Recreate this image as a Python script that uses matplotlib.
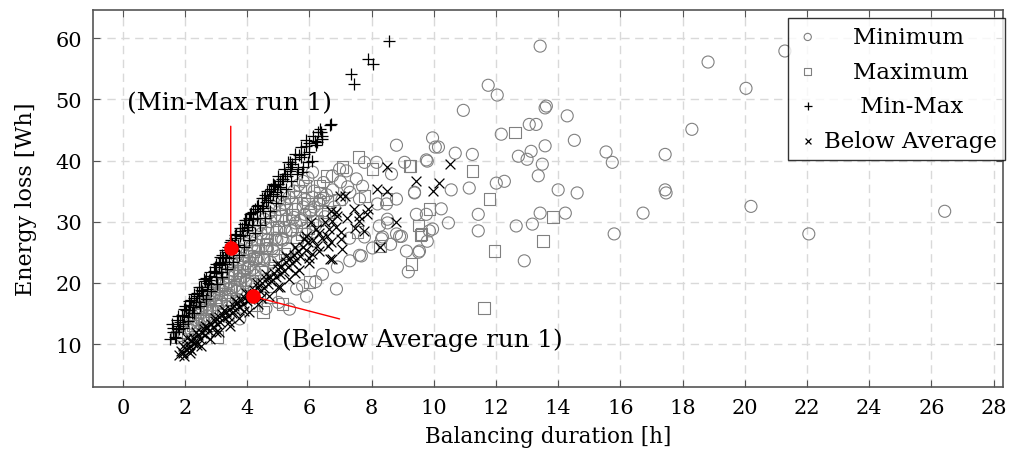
import matplotlib
matplotlib.use("Agg")
import matplotlib.pyplot as plt

plt.rcParams["font.family"] = ["DejaVu Serif"]

# Minimum strategy (grey circles)
min_x = [1.85, 2.05, 2.20, 2.10, 2.35, 2.30, 2.50, 2.45, 2.65, 2.60, 2.80, 2.75, 2.95, 2.90, 3.10,
         3.05, 3.25, 3.20, 3.40, 3.35, 3.55, 3.50, 3.70, 3.65, 3.85, 3.80, 4.00, 3.95, 4.15, 4.10,
         4.30, 4.25, 4.45, 4.40, 4.60, 4.55, 4.75, 4.70, 4.90, 4.85, 5.05, 5.00, 5.20, 5.15, 5.35,
         5.50, 5.65, 5.80, 5.95, 3.00, 3.30, 3.60, 3.90, 4.20, 4.50, 4.80, 5.10, 5.40, 5.70, 6.00,
         6.30, 6.55, 3.75, 4.05, 4.35, 4.65, 4.95, 5.25, 5.55, 5.85, 6.15, 6.45,
         2.45, 2.70, 2.90, 3.15, 3.45, 3.70, 3.95, 4.25, 4.50, 4.75, 5.00, 5.30, 5.60, 5.90, 6.20,
         6.50, 6.80, 7.05, 7.30, 2.55, 2.85, 3.15, 3.45, 3.75, 4.05, 4.35, 4.65, 4.95, 5.25, 5.55,
         5.85, 6.15, 6.45, 6.75,
         2.20, 2.50, 2.80, 3.10, 3.40, 3.70, 4.00, 4.30, 4.60, 4.90, 5.20, 5.50, 5.80, 6.10,
         2.45, 2.75, 3.05, 3.35, 3.65, 3.95, 4.25, 4.55, 4.85, 5.15, 5.45, 5.75, 6.05, 6.35,
         3.76, 5.36, 6.87, 5.91, 6.42, 5.59, 5.78, 4.60, 5.00, 6.20, 6.90, 7.30,
         6.10, 6.74, 6.97, 7.19, 7.00, 7.23, 7.51, 7.71, 7.61, 7.77, 8.16, 8.64, 8.80, 9.06, 9.76,
         10.05, 9.38, 8.80, 8.19, 8.48, 9.44, 9.76, 9.96, 8.51, 8.90, 8.32, 7.61, 7.29, 8.25, 9.86,
         9.79, 8.96, 8.80, 8.35, 8.61, 9.12, 9.54, 9.18, 8.03, 7.67, 7.77, 8.51, 9.51,
         11.75, 12.04, 10.95, 13.58, 13.62, 14.29, 18.30, 12.17, 13.07, 13.29, 14.52, 9.96, 10.15,
         10.69, 11.24, 9.79, 12.72, 13.00, 13.13, 13.58, 13.49, 13.36, 15.54, 15.74, 17.44, 17.44,
         17.47, 12.01, 12.27, 14.00, 14.61, 10.56, 11.14, 9.38, 10.24, 11.43, 13.42, 14.23, 16.73,
         10.47, 12.65, 13.17, 11.43, 15.80, 12.91, 13.42, 18.82, 20.04, 20.20, 22.06, 26.43, 21.29]
min_y = [11.4, 12.6, 13.4, 14.2, 14.0, 15.6, 15.0, 16.6, 16.2, 17.4, 17.0, 18.6, 18.0, 19.4, 19.0,
         20.4, 20.0, 21.4, 21.0, 22.6, 22.0, 23.4, 23.0, 24.4, 24.0, 25.4, 25.0, 26.4, 26.0, 27.4,
         27.0, 28.4, 28.0, 29.4, 29.0, 30.4, 30.0, 31.4, 31.0, 32.4, 32.0, 33.4, 33.0, 34.4, 34.0,
         35.0, 36.0, 36.6, 37.2, 16.4, 17.8, 19.4, 21.0, 22.4, 24.0, 25.6, 27.2, 28.6, 30.2, 31.6,
         33.0, 34.4, 20.6, 23.6, 25.4, 27.0, 28.6, 30.4, 32.0, 33.6, 35.0, 36.4,
         13.4, 14.6, 15.6, 16.8, 18.0, 19.0, 20.0, 21.2, 22.4, 23.4, 24.4, 25.6, 26.8, 28.0, 29.4,
         30.8, 32.4, 33.6, 34.8, 15.8, 17.4, 18.8, 20.2, 21.6, 22.8, 24.2, 25.6, 27.0, 28.4, 29.8,
         31.2, 32.4, 33.8, 35.2,
         12.2, 13.9, 15.6, 17.2, 18.9, 20.6, 22.3, 24.0, 25.6, 27.3, 29.0, 30.7, 32.4, 34.0,
         12.0, 13.9, 15.3, 17.1, 18.6, 20.4, 21.9, 23.8, 25.2, 27.0, 28.5, 30.3, 31.8, 33.5,
         14.1, 15.7, 19.0, 17.8, 21.4, 19.0, 19.5, 15.8, 16.8, 20.2, 22.6, 23.6,
         38.1, 37.5, 38.6, 38.3, 36.5, 35.7, 37.0, 35.8, 33.7, 39.7, 39.7, 37.8, 42.5, 39.7, 40.1,
         42.2, 34.8, 33.7, 32.9, 32.9, 31.2, 31.2, 28.8, 30.4, 27.6, 27.2, 24.5, 27.3, 29.3, 28.5,
         26.8, 27.6, 28.0, 27.5, 26.3, 25.2, 25.2, 21.8, 25.7, 24.4, 27.5, 29.8, 25.0,
         52.3, 50.7, 48.2, 48.6, 48.9, 47.3, 45.1, 44.3, 45.9, 45.9, 43.3, 43.7, 42.2,
         41.2, 41.0, 39.9, 40.7, 40.2, 41.5, 42.4, 39.4, 37.5, 41.4, 39.7, 41.0, 35.2,
         34.7, 36.3, 36.6, 35.2, 34.7, 35.2, 35.5, 34.7, 32.1, 31.2, 31.4, 31.4, 31.4,
         29.8, 29.3, 29.6, 28.5, 28.0, 23.6, 58.7, 56.1, 51.8, 32.5, 28.0, 31.7, 57.9]

# Maximum strategy (grey squares)
max_x = [1.73, 1.95, 2.25, 2.40, 2.55, 2.70, 2.85, 3.02, 3.00, 3.15, 3.30, 3.45, 3.60, 3.75, 3.90,
         4.05, 4.20, 4.35, 4.50, 4.65, 4.80, 4.95, 5.10, 5.25, 5.40, 5.55, 5.70, 5.85, 6.33, 6.55,
         6.58, 7.06, 7.58, 8.03, 9.22, 7.77, 8.48, 9.86, 9.51, 9.60, 7.55, 8.28, 9.28, 6.00, 5.14,
         4.50, 12.62, 11.24, 11.79, 13.84, 13.52, 11.95, 11.62, 9.25, 9.57, 4.85, 5.30, 4.10, 3.55,
         5.75, 6.10, 6.40, 4.30, 4.75,
         2.60, 3.05, 3.35, 3.85, 4.15, 4.45, 4.90, 5.20, 5.60, 5.95, 6.25, 6.60, 6.95, 6.35, 5.95,
         5.45, 5.00, 4.60, 4.25, 3.85, 3.50, 3.20, 2.90]
max_y = [11.1, 12.0, 13.0, 15.2, 14.2, 16.0, 15.4, 11.1, 17.6, 18.2, 19.6, 19.0, 21.2, 22.0, 22.6,
         24.4, 25.2, 26.2, 27.2, 28.2, 29.0, 30.2, 31.0, 32.0, 33.0, 34.0, 35.0, 35.8, 35.8, 37.5,
         33.2, 38.9, 40.6, 38.6, 39.1, 34.2, 33.7, 32.1, 29.4, 28.0, 28.3, 26.0, 23.1, 20.1, 16.5,
         15.2, 44.6, 38.3, 33.7, 30.8, 26.8, 25.2, 15.9, 39.1, 27.8, 22.4, 25.6, 19.8, 17.4,
         28.0, 30.2, 31.8, 16.4, 17.6,
         13.8, 15.4, 16.6, 18.6, 20.4, 21.8, 23.8, 24.8, 27.4, 29.0, 30.2, 31.6, 33.6, 34.8, 33.0,
         31.2, 29.2, 26.2, 24.0, 23.2, 21.6, 19.8, 18.4]

# Min-Max strategy (black plus)
mm_x = [1.52, 1.60, 1.68, 1.75, 1.70, 1.82, 1.90, 1.85, 1.95, 2.02, 2.08, 2.00, 2.15, 2.22, 2.18,
        2.30, 2.25, 2.38, 2.45, 2.40, 2.52, 2.58, 2.50, 2.65, 2.72, 2.68, 2.80, 2.85, 2.78, 2.92,
        3.00, 2.95, 3.08, 3.15, 3.10, 3.22, 3.28, 3.20, 3.35, 3.42, 3.38, 3.50, 3.55, 3.48, 3.62,
        3.70, 3.65, 3.76, 3.82, 3.78, 3.90, 3.98, 3.92, 4.05, 4.14, 4.08, 4.20, 4.24, 4.30, 4.36,
        4.46, 4.40, 4.55, 4.62, 4.58, 4.72, 4.78, 4.70, 4.86, 4.95, 4.90, 5.04, 5.11, 5.06, 5.20,
        5.27, 5.30, 5.36, 5.45, 5.62, 5.68, 5.75, 5.84, 5.88, 5.94, 6.07, 6.10, 6.17, 6.23, 6.33,
        6.36, 6.42, 6.42, 6.65, 6.71, 7.35, 7.45, 7.90, 8.03, 8.57,
        1.62, 1.78, 1.98, 2.12, 2.35, 2.55, 2.75, 2.98, 3.18, 3.32, 3.58, 3.86, 4.02, 4.18, 4.50,
        4.66, 4.82, 5.00, 5.15, 5.40, 5.55, 5.72, 6.00, 6.28,
        1.70, 1.58, 1.92, 1.78, 2.10, 1.96, 2.30, 2.12, 2.48, 2.30, 2.66, 2.46, 2.84, 2.62, 3.02,
        2.80, 3.20, 2.98, 3.36, 3.14, 3.54, 3.30, 3.72, 3.46, 3.90, 3.62, 4.06, 3.78, 4.24, 3.96,
        4.40, 4.12, 4.58, 4.30, 4.74, 4.48, 4.92, 4.64, 5.08, 4.82, 5.26, 5.00, 5.42, 5.18, 5.60,
        5.36, 5.78, 5.54, 5.72, 6.00, 5.90, 6.20]
mm_y = [10.8, 12.6, 11.2, 13.9, 12.0, 12.4, 14.8, 13.6, 13.2, 15.6, 14.4, 16.2, 16.4, 15.1, 17.2,
        17.6, 16.0, 18.4, 16.8, 17.9, 19.4, 18.0, 18.9, 20.3, 19.0, 20.8, 21.2, 19.8, 20.4, 22.0,
        21.0, 22.6, 23.2, 21.8, 22.9, 24.1, 23.0, 24.6, 25.0, 24.0, 25.8, 26.4, 25.2, 27.0, 27.4,
        26.2, 28.0, 27.6, 28.9, 28.4, 29.6, 28.6, 30.2, 30.6, 29.4, 31.2, 31.6, 32.1, 30.6, 32.8,
        32.5, 31.8, 33.8, 33.2, 34.4, 34.2, 35.4, 35.0, 36.0, 34.8, 35.9, 36.6, 37.0, 35.7, 37.8,
        37.5, 39.7, 38.3, 39.4, 38.6, 40.9, 38.1, 41.0, 42.4, 39.7, 39.9, 44.0, 43.2, 43.0, 45.1,
        44.6, 44.0, 43.5, 45.8, 45.9, 54.1, 52.5, 56.6, 55.8, 59.5,
        11.9, 12.9, 14.6, 15.5, 16.9, 18.6, 20.0, 21.6, 23.4, 24.2, 26.0, 27.9, 29.2, 30.4, 32.2,
        33.6, 34.6, 36.2, 36.9, 38.9, 40.2, 40.6, 42.8, 44.6,
        11.0, 13.2, 12.6, 14.6, 13.8, 15.8, 15.0, 17.0, 16.2, 18.2, 17.4, 19.4, 18.6, 20.6, 19.8,
        21.8, 21.0, 23.0, 22.2, 24.2, 23.4, 25.4, 24.6, 26.6, 25.8, 27.8, 27.0, 29.0, 28.2, 30.2,
        29.4, 31.4, 30.6, 32.6, 31.8, 33.8, 33.0, 35.0, 34.2, 36.2, 35.4, 37.4, 36.6, 38.6, 37.8,
        39.8, 39.0, 41.0, 42.2, 41.4, 43.4, 42.6]

# Below Average strategy (black x)
ba_x = [1.80, 1.86, 1.92, 1.95, 2.02, 2.08, 2.12, 2.18, 2.25, 2.30, 2.35, 2.42, 2.48, 2.55, 2.60,
        2.65, 2.72, 2.78, 2.85, 2.90, 2.96, 3.02, 3.08, 3.14, 3.20, 3.26, 3.32, 3.38, 3.45, 3.50,
        3.56, 3.62, 3.68, 3.74, 3.80, 3.86, 3.92, 3.98, 4.05, 4.10, 4.22, 4.28, 4.35, 4.40, 4.48,
        4.54, 4.60, 4.66, 4.72, 4.78, 4.85, 4.92, 4.98, 5.04, 5.10, 5.18, 5.24, 5.30, 5.38, 5.44,
        5.50, 5.58, 5.64, 5.70, 5.78, 5.84, 5.90, 5.96, 6.04, 6.07, 6.12, 6.23, 6.30, 6.40, 6.55,
        6.62, 6.71, 6.71, 6.74, 6.74, 6.85, 6.97, 7.03, 7.06, 7.13, 7.20, 7.42, 7.48, 7.61, 7.61,
        7.77, 7.84, 7.87, 8.16, 8.28, 8.48, 8.51, 8.80, 9.44, 9.96, 10.18, 10.53,
        1.98, 2.40, 2.20, 3.00, 3.40, 3.90, 4.45, 5.00, 5.55, 6.00, 6.87, 6.65,
        2.05, 2.15, 2.35, 2.50, 2.65, 2.80, 2.95, 3.10, 3.25, 3.45, 3.60, 3.75, 3.95, 4.05, 4.30,
        4.35, 4.62, 4.70, 4.95, 5.05, 5.25, 5.35, 5.55, 5.65, 5.88, 5.98, 6.20, 6.30, 6.50, 6.60,
        6.90, 7.00]
ba_y = [8.2, 8.9, 8.5, 9.6, 9.2, 10.0, 9.4, 10.6, 10.1, 11.0, 10.4, 11.4, 10.9, 11.8, 12.4,
        11.5, 12.8, 12.2, 13.3, 12.7, 13.8, 13.2, 14.4, 13.6, 14.9, 14.2, 15.3, 14.6, 15.8, 15.0,
        16.2, 15.6, 16.8, 16.0, 17.2, 16.5, 17.6, 17.0, 18.2, 17.4, 18.8, 18.0, 19.4, 18.6, 19.9,
        19.2, 20.6, 19.8, 21.0, 20.3, 21.6, 20.9, 22.2, 21.5, 22.8, 22.0, 23.4, 22.6, 24.0, 23.2,
        24.6, 23.8, 25.2, 24.4, 25.9, 27.2, 25.4, 26.6, 29.9, 24.7, 27.0, 26.0, 28.2, 27.4, 27.6,
        28.8, 31.7, 26.7, 30.1, 23.9, 29.2, 34.2, 28.3, 25.5, 34.2, 30.6, 32.1, 29.0, 30.9, 30.1,
        28.5, 31.2, 32.1, 35.3, 25.8, 38.9, 35.0, 29.9, 36.6, 35.0, 36.3, 39.4,
        8.0, 9.8, 9.0, 12.0, 13.6, 15.4, 17.6, 19.4, 21.6, 23.2, 31.6, 23.9,
        11.0, 8.6, 11.9, 9.6, 12.9, 10.8, 14.3, 12.0, 15.6, 13.0, 17.1, 14.2, 18.4, 15.2, 19.9,
        16.5, 21.4, 17.8, 23.0, 19.3, 24.4, 20.7, 25.8, 22.1, 27.6, 24.0, 28.8, 25.2, 30.0, 26.0,
        31.0, 27.2]

labels = ["    Minimum", "    Maximum", "     Min-Max", "Below Average"]

# highlighted runs
run_names = ["(Min-Max run 1)", "(Below Average run 1)"]
run_x = [3.47, 4.17]
run_y = [25.7, 17.8]
pin_end = [(3.47, 45.6), (6.97, 14.1)]
label_pos = [(3.44, 49.4), (9.62, 10.8)]

fig = plt.figure(figsize=(10.14, 4.6), dpi=100)
ax = fig.add_axes([0.0917, 0.1565, 0.8973, 0.8195])

grey = "#808080"
ax.scatter(min_x, min_y, s=75, marker="o", facecolors="none", edgecolors=grey, linewidths=0.8,
           label=labels[0], zorder=3)
ax.scatter(max_x, max_y, s=70, marker="s", facecolors="none", edgecolors=grey, linewidths=0.8,
           label=labels[1], zorder=3)
ax.scatter(mm_x, mm_y, s=80, marker="+", color="black", linewidths=0.9, label=labels[2], zorder=4)
ax.scatter(ba_x, ba_y, s=50, marker="x", color="black", linewidths=0.9, label=labels[3], zorder=4)

ax.scatter(run_x, run_y, s=90, color="red", zorder=6)
for name, px, py, (ex, ey), (tx, ty) in zip(run_names, run_x, run_y, pin_end, label_pos):
    ax.annotate("", xy=(px, py), xytext=(ex, ey),
                arrowprops=dict(arrowstyle="-", color="red", lw=1, shrinkA=0, shrinkB=0), zorder=5)
    ax.text(tx, ty, name, ha="center", va="center", fontsize=17.7, zorder=7)

ax.set_xlim(-0.96, 28.3)
ax.set_ylim(2.97, 64.6)
ax.set_xticks(range(0, 29, 2))
ax.set_yticks(range(10, 61, 10))
ax.grid(True, color="#d9d9d9", linestyle=(0, (6, 4)), linewidth=1)
ax.set_axisbelow(True)
ax.tick_params(direction="in", top=True, right=True, length=5, width=0.8, color="#555555",
               labelsize=15, pad=8)
for sp in ax.spines.values():
    sp.set_color("#555555")
    sp.set_linewidth(1.2)

ax.set_xlabel("Balancing duration [h]", fontsize=15.5, labelpad=6)
ax.set_ylabel("Energy loss [Wh]", fontsize=16, labelpad=13)

leg = ax.legend(loc="upper right", bbox_to_anchor=(1.002, 0.979), fontsize=16.5, markerscale=0.6,
                frameon=True, fancybox=False, edgecolor="black", handletextpad=0.2,
                borderpad=0.35, labelspacing=0.55, handlelength=1.0, borderaxespad=0)
leg.get_frame().set_linewidth(1.0)

fig.savefig("out.png", dpi=100)
